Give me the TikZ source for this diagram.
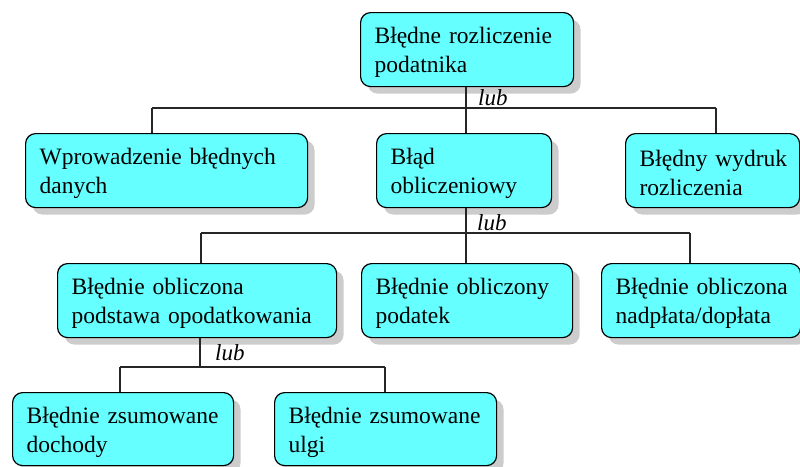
\documentclass[tikz,border=0pt]{standalone}
\usepackage{fontspec}
\setmainfont{Liberation Serif}
\usetikzlibrary{shadows}
\definecolor{boxcyan}{RGB}{102,255,255}
\definecolor{shadowgray}{RGB}{204,204,204}
\hfuzz=50pt
\hbadness=10000
\hyphenpenalty=10000
\exhyphenpenalty=10000
\begin{document}
\begin{tikzpicture}[x=1pt,y=-1pt,
 box/.style={draw=black, line width=1.2pt, rounded corners=10pt, fill=boxcyan, anchor=north west, align=left, inner xsep=14pt, inner ysep=0pt, minimum height=74pt, font=\fontsize{23.5}{29}\selectfont, execute at begin node={\rule{0pt}{22pt}}, drop shadow={shadow xshift=7pt, shadow yshift=-7pt, fill=shadowgray, opacity=1}},
 conn/.style={draw=black!85, line width=1.2pt},
 lub/.style={font=\fontsize{23}{27}\selectfont\itshape, anchor=base west, inner sep=0pt}]
\useasboundingbox (0,0) rectangle (800,466);
% row 1
\node[box, text width=185pt] (top) at (360,12) {Błędne~rozliczenie\\podatnika};
% row 2
\node[box, text width=254pt] (A) at (25,133) {Wprowadzenie~błędnych\\danych};
\node[box, text width=147pt] (B) at (376,133) {Błąd\\obliczeniowy};
\node[box, text width=146pt] (C) at (625,133) {Błędny~wydruk\\rozliczenia};
% row 3
\node[box, text width=251pt] (D) at (57,263) {Błędnie~obliczona\\podstawa~opodatkowania};
\node[box, text width=183pt] (E) at (361,263) {Błędnie~obliczony\\podatek};
\node[box, text width=171pt] (F) at (601,263) {Błędnie~obliczona\\nadpłata/dopłata};
% row 4
\node[box, text width=193pt, minimum height=73pt] (G) at (12,392) {Błędnie~zsumowane\\dochody};
\node[box, text width=194pt, minimum height=73pt] (H) at (274,392) {Błędnie~zsumowane\\ulgi};
% junctions
\coordinate (j1l) at (152,108);
\coordinate (j1r) at (716,108);
\coordinate (j1c) at (466,108);
\coordinate (j2l) at (201,233);
\coordinate (j2r) at (690,233);
\coordinate (j2c) at (466,233);
\coordinate (j3l) at (120,367);
\coordinate (j3r) at (385,367);
\coordinate (j3c) at (200,367);
% connectors level 1
\draw[conn] (j1l) -- (j1r);
\draw[conn] (j1c |- top.south) -- (j1c |- B.north);
\draw[conn] (j1l) -- (j1l |- A.north);
\draw[conn] (j1r) -- (j1r |- C.north);
% level 2
\draw[conn] (j2l) -- (j2r);
\draw[conn] (j2c |- B.south) -- (j2c |- E.north);
\draw[conn] (j2l) -- (j2l |- D.north);
\draw[conn] (j2r) -- (j2r |- F.north);
% level 3
\draw[conn] (j3l) -- (j3r);
\draw[conn] (j3c |- D.south) -- (j3c);
\draw[conn] (j3l) -- (j3l |- G.north);
\draw[conn] (j3r) -- (j3r |- H.north);
% labels
\node[lub] (l1) at (478,105) {lub};
\node[lub] (l2) at (477,230) {lub};
\node[lub] (l3) at (215,360) {lub};
\end{tikzpicture}
\end{document}
